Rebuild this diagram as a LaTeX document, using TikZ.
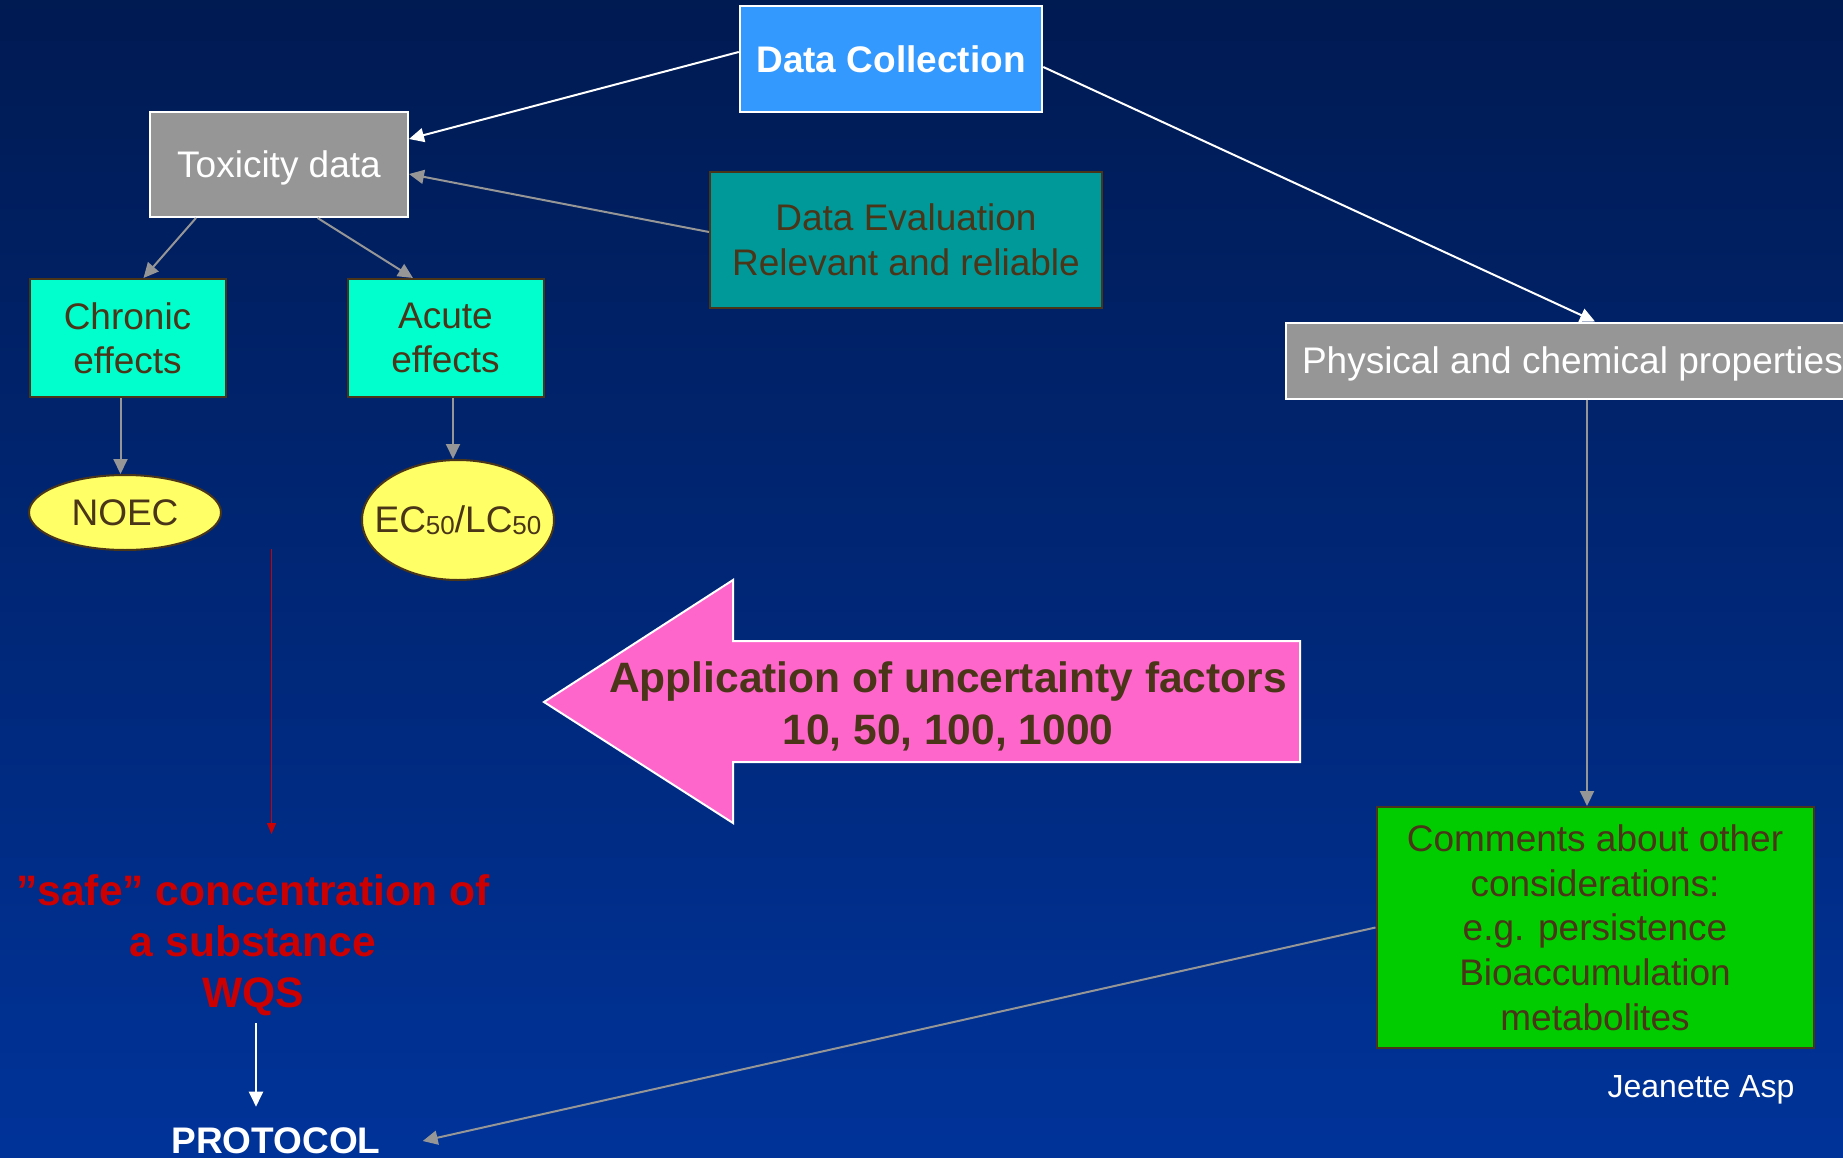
\documentclass[tikz,border=0pt]{standalone}
\usepackage{fontspec}
\setmainfont{Liberation Sans}
\usetikzlibrary{positioning, arrows.meta, shapes.geometric, calc}
\definecolor{bgTop}{HTML}{001A52}
\definecolor{bgBot}{HTML}{003399}
\definecolor{mBrown}{HTML}{4A3519}
\definecolor{mGrey}{HTML}{969696}
\definecolor{mBlue}{HTML}{3399FF}
\definecolor{mAqua}{HTML}{00FFCC}
\definecolor{mYellow}{HTML}{FFFF66}
\definecolor{mTeal}{HTML}{009999}
\definecolor{mGreen}{HTML}{00CC00}
\definecolor{mPink}{HTML}{FF66CC}
\definecolor{mRed}{HTML}{CC0000}
\newcommand{\setfs}[2]{\fontsize{#1}{#2}\selectfont}
\newcommand{\sub}[1]{\raisebox{-2pt}{\setfs{26}{26}#1}}

\begin{document}
\begin{tikzpicture}[x=1pt, y=-1pt,
  greybox/.style={draw=white, line width=2pt, fill=mGrey, text=white,
                  font=\setfs{37}{44}, inner sep=0pt, text depth=0pt},
  effbox/.style={draw=mBrown, line width=2pt, fill=mAqua, text=mBrown,
                 minimum width=196, minimum height=118, align=center,
                 font=\setfs{37}{44}, inner sep=0pt},
  endpoint/.style={ellipse, draw=mBrown, line width=2pt, fill=mYellow,
                   text=mBrown, minimum width=192, inner sep=0pt,
                   font=\setfs{37}{44}},
  infobox/.style={draw=mBrown, line width=2pt, text=mBrown, align=center,
                  font=\setfs{37}{44.7}, inner sep=0pt},
  whitearrow/.style={draw=white, line width=2pt,
                     -{Triangle[length=15pt, width=14pt]}},
  greyarrow/.style={draw=mGrey, line width=2pt,
                    -{Triangle[length=15pt, width=14pt]}},
]
  % background
  \shade[top color=bgTop, bottom color=bgBot] (0,0) rectangle (1843,1158);
  \useasboundingbox (0,0) rectangle (1843,1158);

  % top row
  \node[draw=white, line width=2.5pt, fill=mBlue, text=white, inner sep=0pt,
        minimum width=302, minimum height=106, font=\bfseries\setfs{37}{44}]
        (collect) at (891,59) {Data Collection};
  \node[greybox, minimum width=258, minimum height=105] (tox) at (279,164.5) {Toxicity data};
  \node[infobox, fill=mTeal, minimum width=392, minimum height=136]
        (evalbox) at (906,240) {Data Evaluation\\Relevant and reliable};
  \node[greybox, anchor=west, minimum height=76, inner xsep=16pt]
        (phys) at (1285,360.5) {Physical and chemical properties};

  % effects and end points
  \node[effbox] (chronic) at (127.5,338) {Chronic\\effects};
  \node[effbox] (acute) at (445.5,338) {Acute\\effects};
  \node[endpoint, minimum height=75] (noec) at (125,512.5) {NOEC};
  \node[endpoint, minimum height=120, inner xsep=-16pt] (ec) at (458,520) {EC\sub{50}/LC\sub{50}};

  \node[infobox, fill=mGreen, minimum width=437, minimum height=241]
        (comments) at (1595,927.5)
        {Comments about other\\considerations:\\e.g. persistence\\Bioaccumulation\\metabolites};

  % uncertainty arrow
  \draw[draw=white, line width=2pt, fill=mPink]
    (544,702) -- (733,580) -- (733,641) -- (1300,641) -- (1300,762)
    -- (733,762) -- (733,823) -- cycle;
  \node[text=mBrown, align=center, inner sep=0pt,
        font=\bfseries\setfs{42.5}{52}] (uncert) at (948,706)
        {Application of uncertainty factors\\10, 50, 100, 1000};

  % result
  \node[text=mRed, align=center, inner sep=0pt, font=\bfseries\setfs{42.6}{51}]
        (safe) at (253,945.5) {”safe” concentration of\\a substance\\WQS};
  \node[text=white, inner sep=0pt, font=\bfseries\setfs{37}{44}]
        (protocol) at (276,1141) {PROTOCOL};
  \node[text=white, inner sep=0pt, text depth=0pt, font=\setfs{32}{38}]
        (author) at (1701,1086) {Jeanette Asp};

  \coordinate (redtop) at (271.5,549);
  \coordinate (redend) at (271.5,834);
  \coordinate (protin) at ([xshift=-20pt]protocol.north);

  % connectors
  \draw[whitearrow] ([yshift=7pt]collect.west) -- ([yshift=25.5pt]tox.east);
  \draw[whitearrow] ([yshift=-8pt]collect.east) -- ([xshift=310pt]phys.north west);
  \draw[greyarrow] ([yshift=8pt]evalbox.west) -- ([yshift=-9.5pt]tox.east);
  \draw[greyarrow] ([xshift=-83pt]tox.south) -- ([xshift=16pt]chronic.north);
  \draw[greyarrow] ([xshift=38.6pt]tox.south) -- ([xshift=-32.5pt]acute.north);
  \draw[greyarrow] ([xshift=-7pt]chronic.south) -- ([xshift=-7pt]chronic.south |- noec.north);
  \draw[greyarrow] ([xshift=7.5pt]acute.south) -- ([xshift=7.5pt]acute.south |- ec.north);
  \draw[greyarrow] ([xshift=-8pt]comments.north |- phys.south) -- ([xshift=-8pt]comments.north);
  \draw[greyarrow] (comments.west) -- ([xshift=42pt]protocol.east);
  \draw[draw=mRed, line width=1.5pt, -{Triangle[length=11pt, width=9pt]}] (redtop) -- (redend);
  \draw[whitearrow, shorten <=7pt, shorten >=21pt] (safe.south -| protin) -- (protin);
\end{tikzpicture}
\end{document}
